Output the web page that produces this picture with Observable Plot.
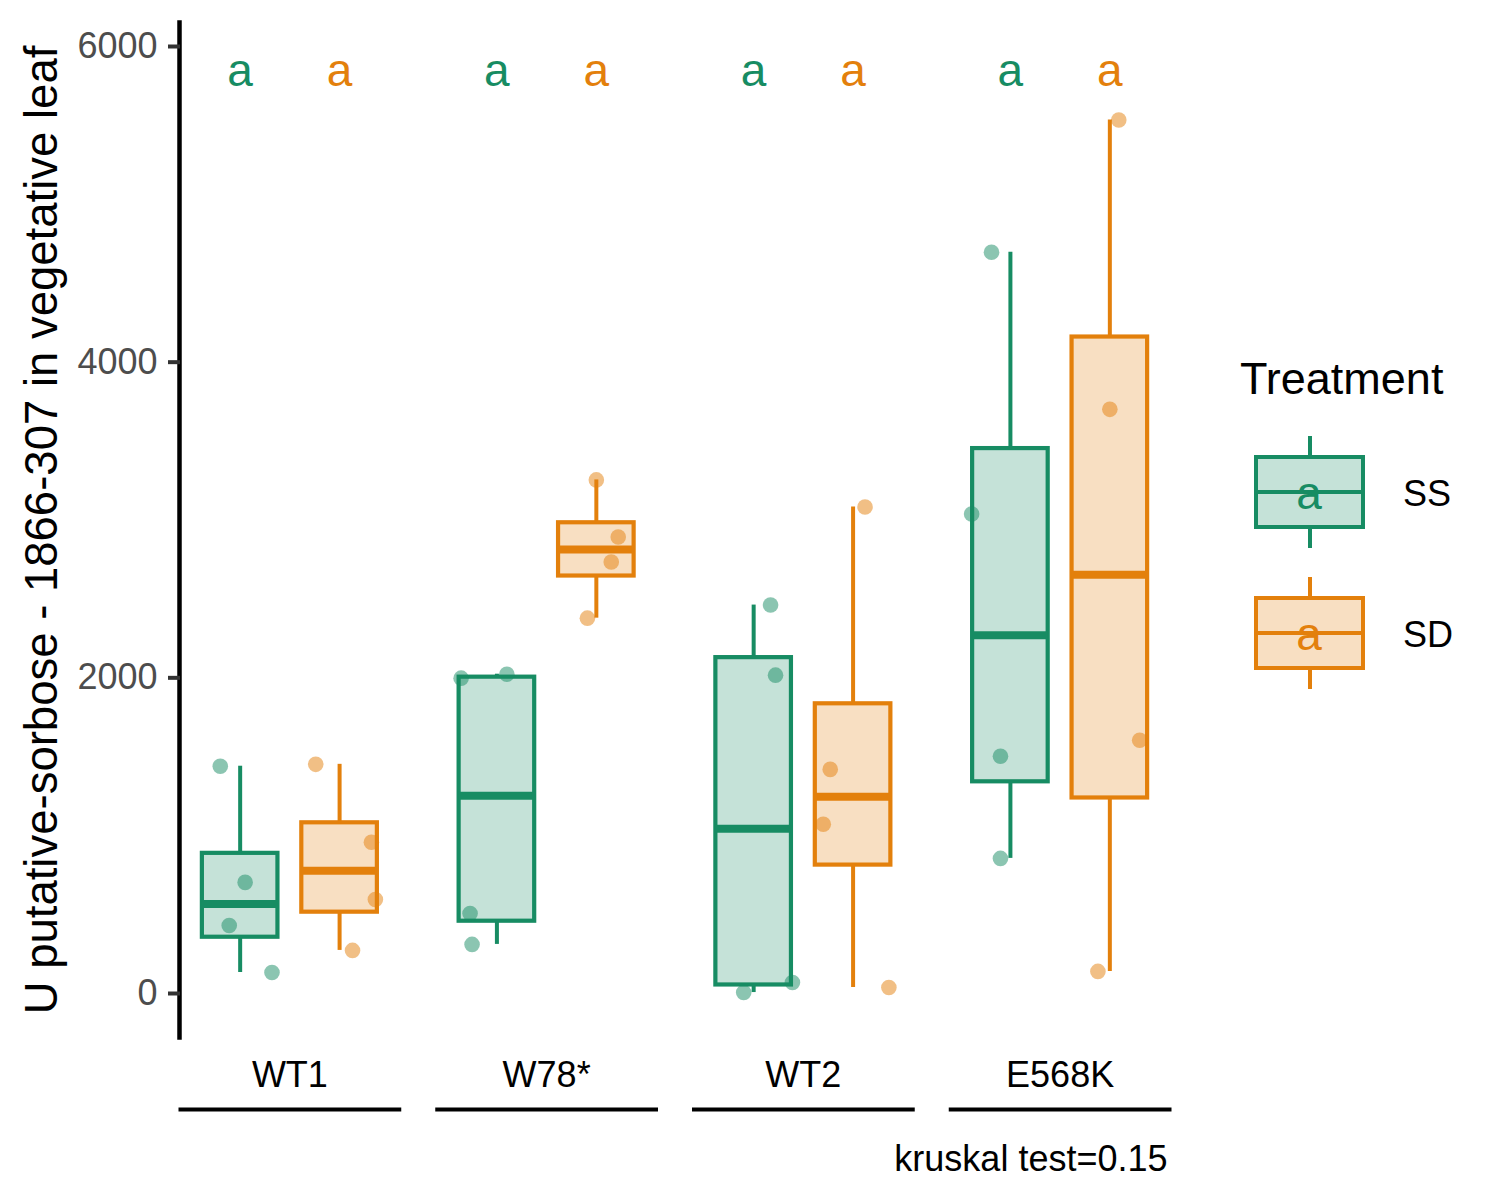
<!DOCTYPE html>
<html>
<head>
<meta charset="utf-8">
<script src="https://cdn.jsdelivr.net/npm/d3@7"></script>
<script src="https://cdn.jsdelivr.net/npm/@observablehq/plot@0.6"></script>
<style>
  body { margin: 0; background: #fff; }
  #chart { position: relative; width: 1500px; height: 1200px; }
</style>
</head>
<body>
<div id="chart"></div>
<script>
// ---- data ----
const groups = ["WT1", "W78*", "WT2", "E568K"];
const treatments = ["SS", "SD"];
const ssValues = [
  [1440, 704, 431, 133],
  [1998, 2023, 507, 311],
  [2461, 2017, 70, 6],
  [4696, 3038, 1503, 856]
];
const sdValues = [
  [1452, 958, 596, 273],
  [3254, 2892, 2734, 2378],
  [3082, 1420, 1072, 38],
  [5534, 3701, 1605, 140]
];
// horizontal jitter of each point (in category units)
const ssJitter = [
  [-0.20, 0.05, -0.11, 0.32],
  [-0.36, 0.10, -0.27, -0.25],
  [0.17, 0.22, 0.39, -0.10],
  [-0.19, -0.39, -0.10, -0.10]
];
const sdJitter = [
  [-0.24, 0.32, 0.36, 0.13],
  [0.00, 0.22, 0.15, -0.09],
  [0.12, -0.23, -0.30, 0.36],
  [0.09, 0.00, 0.30, -0.12]
];
const ssLetters = ["a", "a", "a", "a"];
const sdLetters = ["a", "a", "a", "a"];
const letterY = 5840;
const yTicks = [0, 2000, 4000, 6000];
const yTitle = "U putative-sorbose - 1866-307 in vegetative leaf";
const caption = "kruskal test=0.15";
const legendTitle = "Treatment";
const colors = ["#178c63", "#e3800c"];

// ---- build tables ----
const valuesBy = {SS: ssValues, SD: sdValues};
const jitterBy = {SS: ssJitter, SD: sdJitter};
const lettersBy = {SS: ssLetters, SD: sdLetters};
const points = [], stats = [], letters = [];
groups.forEach((g, gi) => treatments.forEach((t, ti) => {
  const vals = valuesBy[t][gi];
  vals.forEach((v, k) => points.push({g, t, pos: ti + 1, v, jit: jitterBy[t][gi][k]}));
  const s = vals.slice().sort(d3.ascending);
  const q1 = d3.quantile(s, 0.25), med = d3.quantile(s, 0.5), q3 = d3.quantile(s, 0.75);
  const iqr = q3 - q1;
  const lo = d3.min(s.filter(v => v >= q1 - 1.5 * iqr));
  const hi = d3.max(s.filter(v => v <= q3 + 1.5 * iqr));
  stats.push({g, t, pos: ti + 1, q1, med, q3, lo, hi});
  letters.push({g, t, pos: ti + 1, label: lettersBy[t][gi]});
}));

const half = 0.38;
const font = "'Liberation Sans', Arial, Helvetica, sans-serif";

const chart = Plot.plot({
  width: 1500,
  height: 1200,
  marginLeft: 180,
  marginRight: 331,
  marginTop: 22,
  marginBottom: 163,
  style: {fontFamily: font, fontSize: "36px", background: "#fff", color: "#000", overflow: "visible"},
  fx: {domain: groups, paddingInner: 0.148, paddingOuter: 0, round: false, axis: null, label: null},
  x: {type: "linear", domain: [0.4, 2.6], axis: null},
  y: {domain: [0, 6000], range: [993, 46]},
  color: {domain: treatments, range: colors},
  marks: [
    Plot.frame({anchor: "left", facetAnchor: "left", stroke: "#000", strokeWidth: 4.5, dx: -1}),
    Plot.frame({anchor: "bottom", stroke: "#000", strokeWidth: 4, dy: 72}),
    Plot.axisY({ticks: yTicks, tickFormat: d => String(d), tickSize: 12, tickPadding: 11,
      fontSize: 36, fill: "#4d4d4d", stroke: "#333", strokeWidth: 4, label: null}),
    Plot.ruleX(stats, {fx: "g", x: "pos", y1: "lo", y2: "q1", stroke: "t", strokeWidth: 4}),
    Plot.ruleX(stats, {fx: "g", x: "pos", y1: "q3", y2: "hi", stroke: "t", strokeWidth: 4}),
    Plot.rect(stats, {fx: "g", x1: d => d.pos - half, x2: d => d.pos + half, y1: "q1", y2: "q3",
      fill: "t", fillOpacity: 0.25, stroke: "t", strokeWidth: 4.2}),
    Plot.ruleY(stats, {fx: "g", x1: d => d.pos - half, x2: d => d.pos + half, y: "med",
      stroke: "t", strokeWidth: 8}),
    Plot.dot(points, {fx: "g", x: d => d.pos + d.jit, y: "v", r: 7.8, fill: "t", fillOpacity: 0.5}),
    Plot.text(letters, {fx: "g", x: "pos", y: () => letterY, text: "label", fill: "t", fontSize: 46}),
    Plot.text([groups[0]], {fx: d => d, frameAnchor: "left", rotate: -90, dx: -138,
      textAnchor: "middle", lineAnchor: "middle",
      text: () => yTitle, fontSize: 45.5, fill: "#000"}),
    Plot.text(groups, {fx: d => d, frameAnchor: "bottom", dy: 38, lineAnchor: "middle",
      text: d => d, fontSize: 36, fill: "#000"}),
    Plot.text([groups[3]], {fx: d => d, frameAnchor: "bottom-right", textAnchor: "end", lineAnchor: "middle",
      dx: -2, dy: 122, text: () => caption, fontSize: 36, fill: "#000"})
  ]
});
document.getElementById("chart").appendChild(chart);

// ---- legend (box-style keys) ----
const svg = d3.select(chart);
const lg = svg.append("g").attr("font-family", font).attr("text-anchor", "start");
lg.append("text").attr("x", 1240).attr("y", 394).attr("font-size", 45).attr("fill", "#000").text(legendTitle);
treatments.forEach((t, i) => {
  const c = colors[i];
  const k = lg.append("g").attr("transform", `translate(0,${i * 141})`);
  k.append("line").attr("x1", 1310).attr("x2", 1310).attr("y1", 436).attr("y2", 457)
    .attr("stroke", c).attr("stroke-width", 4);
  k.append("line").attr("x1", 1310).attr("x2", 1310).attr("y1", 527).attr("y2", 548)
    .attr("stroke", c).attr("stroke-width", 4);
  k.append("rect").attr("x", 1256).attr("y", 457).attr("width", 107).attr("height", 70)
    .attr("fill", c).attr("fill-opacity", 0.25).attr("stroke", c).attr("stroke-width", 4);
  k.append("line").attr("x1", 1256).attr("x2", 1363).attr("y1", 492).attr("y2", 492)
    .attr("stroke", c).attr("stroke-width", 4);
  k.append("text").attr("x", 1309).attr("y", 509).attr("text-anchor", "middle")
    .attr("font-size", 46).attr("fill", c).text(lettersBy[t][0]);
  k.append("text").attr("x", 1403).attr("y", 506).attr("font-size", 36).attr("fill", "#000").text(t);
});
</script>
</body>
</html>
